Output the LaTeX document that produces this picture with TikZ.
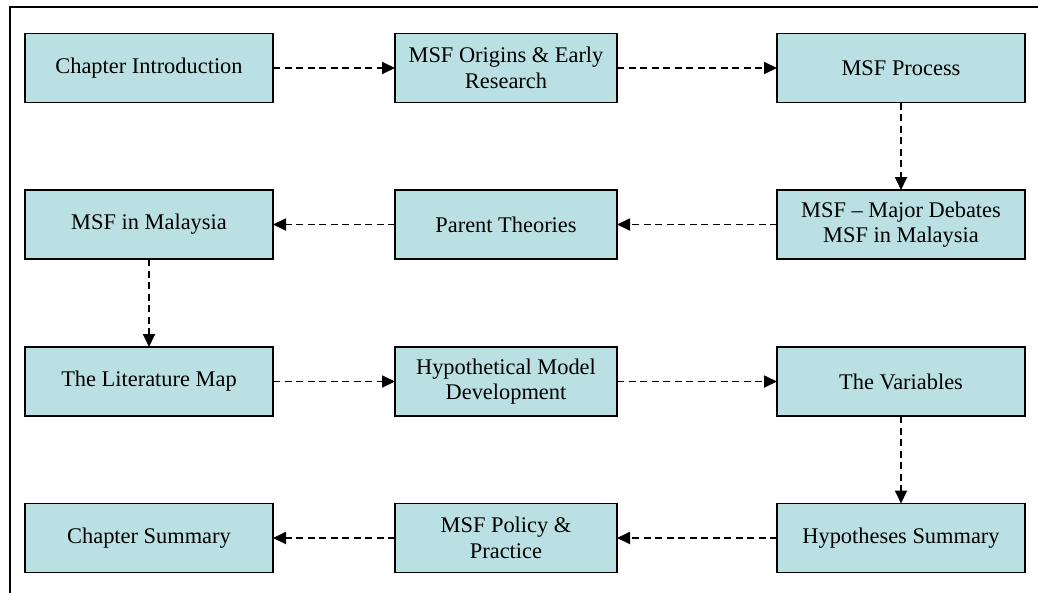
\documentclass[tikz,border=0pt]{standalone}
\usepackage{fontspec}
\setmainfont{Liberation Serif}
\usetikzlibrary{arrows.meta}
\definecolor{boxfill}{RGB}{186,224,227}
\begin{document}
\begin{tikzpicture}[x=1pt,y=-1pt,
  stage/.style={draw=black,line width=1.6pt,fill=boxfill,minimum height=69pt,
    inner sep=2pt,outer sep=0pt,align=center,
    font=\fontsize{22.4}{25.5}\selectfont},
  side/.style={stage,minimum width=248pt},
  mid/.style={stage,minimum width=222pt},
  flow/.style={line width=1.8pt,dash pattern=on 7pt off 4.5pt,
    -{Triangle[length=13pt,width=12pt]}}]
\useasboundingbox (0,0) rectangle (1038,592);
% outer frame (right and bottom edges fall outside the page)
\draw[line width=2.6pt] (10,620) -- (10,7) -- (1060,7);

% row 1
\node[side] (intro)   at (149,68)  {Chapter Introduction};
\node[mid]  (origins) at (506,68)  {MSF Origins \& Early\\Research};
\node[side] (process) at (901,68)  {MSF Process};
% row 2
\node[side] (debates) at (901,224.5) {MSF -- Major Debates\\MSF in Malaysia};
\node[mid]  (parent)  at (506,224.5) {Parent Theories};
\node[side] (malay)   at (149,224.5) {MSF in Malaysia};
% row 3
\node[side] (litmap)  at (149,381.5) {The Literature Map};
\node[mid]  (model)   at (506,381.5) {Hypothetical Model\\Development};
\node[side] (vars)    at (901,381.5) {The Variables};
% row 4
\node[side] (hypsum)  at (901,538) {Hypotheses Summary};
\node[mid]  (policy)  at (506,538) {MSF Policy \&\\Practice};
\node[side] (summary) at (149,538) {Chapter Summary};

% connectors
\draw[flow] (intro)   -- (origins);
\draw[flow] (origins) -- (process);
\draw[flow] (process) -- (debates);
\draw[flow] (debates) -- (parent);
\draw[flow] (parent)  -- (malay);
\draw[flow] (malay)   -- (litmap);
\draw[flow] (litmap)  -- (model);
\draw[flow] (model)   -- (vars);
\draw[flow] (vars)    -- (hypsum);
\draw[flow] (hypsum)  -- (policy);
\draw[flow] (policy)  -- (summary);
\end{tikzpicture}
\end{document}
